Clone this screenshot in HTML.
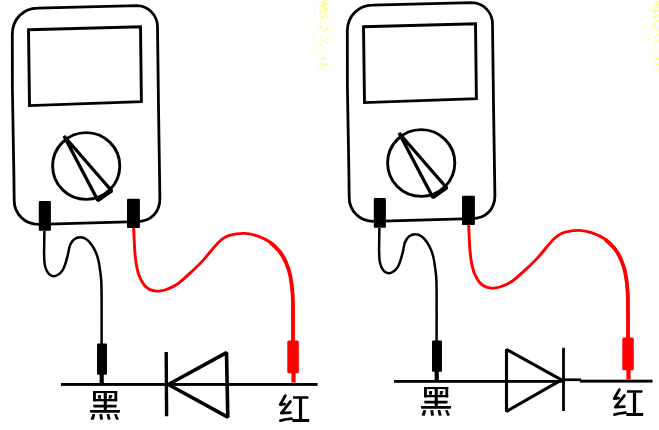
<!DOCTYPE html>
<html><head><meta charset="utf-8"><style>
html,body{margin:0;padding:0;background:#fff;width:659px;height:430px;overflow:hidden;font-family:"Liberation Sans",sans-serif}
svg{display:block}
</style></head><body>
<svg width="659" height="430" viewBox="0 0 659 430">
<rect width="659" height="430" fill="#fff"/>
<g fill="#ffff30" fill-opacity="0.75"><rect x="322.8" y="1.6" width="1.0" height="1.5"/><rect x="324.8" y="40.8" width="1.0" height="1.0"/><rect x="325.8" y="16.8" width="2.0" height="1.0"/><rect x="324.9" y="2.7" width="1.0" height="2.0"/><rect x="319.1" y="40.4" width="2.0" height="1.0"/><rect x="319.0" y="68.3" width="1.0" height="2.0"/><rect x="324.9" y="2.6" width="1.5" height="2.0"/><rect x="321.8" y="57.1" width="1.0" height="1.0"/><rect x="320.3" y="26.1" width="1.0" height="2.0"/><rect x="321.7" y="4.5" width="2.0" height="1.5"/><rect x="317.7" y="25.3" width="1.0" height="1.0"/><rect x="324.8" y="48.9" width="1.0" height="1.0"/><rect x="320.7" y="16.0" width="1.5" height="2.0"/><rect x="322.1" y="68.6" width="1.0" height="2.0"/><rect x="319.7" y="10.6" width="2.0" height="1.5"/><rect x="325.7" y="14.7" width="1.5" height="1.5"/><rect x="322.3" y="40.6" width="2.0" height="1.0"/><rect x="320.2" y="58.8" width="1.5" height="1.5"/><rect x="323.2" y="6.8" width="2.0" height="1.5"/><rect x="322.6" y="50.2" width="1.5" height="1.0"/><rect x="325.8" y="42.8" width="2.0" height="1.0"/><rect x="322.6" y="6.3" width="1.0" height="1.5"/><rect x="319.4" y="5.6" width="2.0" height="1.5"/><rect x="326.8" y="38.5" width="1.0" height="1.5"/><rect x="324.9" y="7.9" width="2.0" height="1.0"/><rect x="321.9" y="10.6" width="1.0" height="1.0"/><rect x="323.7" y="33.9" width="1.0" height="1.5"/><rect x="325.4" y="3.2" width="1.5" height="2.0"/><rect x="317.6" y="48.3" width="1.0" height="1.5"/><rect x="320.9" y="63.0" width="2.0" height="1.5"/><rect x="322.5" y="1.4" width="1.0" height="1.0"/><rect x="324.2" y="30.8" width="1.0" height="1.5"/><rect x="322.5" y="39.7" width="1.0" height="1.5"/><rect x="322.8" y="1.5" width="1.0" height="2.0"/><rect x="320.9" y="66.9" width="1.5" height="1.5"/><rect x="326.1" y="8.6" width="2.0" height="1.5"/><rect x="321.3" y="16.5" width="1.5" height="1.5"/><rect x="323.8" y="58.0" width="1.0" height="2.0"/><rect x="329.8" y="37.0" width="1.0" height="2.0"/><rect x="324.4" y="0.6" width="1.5" height="2.0"/><rect x="326.1" y="18.3" width="1.5" height="1.0"/><rect x="320.5" y="24.9" width="1.0" height="2.0"/><rect x="320.5" y="13.5" width="1.0" height="1.0"/><rect x="322.7" y="57.3" width="1.0" height="1.0"/><rect x="321.1" y="2.0" width="1.0" height="1.5"/><rect x="323.2" y="4.3" width="1.5" height="1.5"/><rect x="325.0" y="24.5" width="1.5" height="1.0"/><rect x="319.6" y="15.4" width="1.0" height="1.5"/><rect x="324.1" y="19.8" width="1.0" height="1.5"/><rect x="325.2" y="63.6" width="1.5" height="2.0"/><rect x="326.8" y="63.7" width="1.0" height="1.5"/><rect x="325.4" y="9.5" width="1.5" height="1.0"/><rect x="325.7" y="27.7" width="2.0" height="2.0"/><rect x="316.9" y="66.3" width="1.0" height="1.0"/><rect x="324.1" y="10.2" width="1.0" height="2.0"/><rect x="323.5" y="57.9" width="2.0" height="2.0"/><rect x="324.9" y="38.4" width="1.0" height="1.0"/><rect x="322.9" y="16.0" width="1.0" height="2.0"/><rect x="323.5" y="69.1" width="1.0" height="1.0"/><rect x="322.1" y="2.0" width="1.0" height="1.5"/><rect x="319.1" y="12.0" width="1.0" height="1.0"/><rect x="323.5" y="63.7" width="1.5" height="1.5"/><rect x="321.0" y="36.2" width="1.0" height="2.0"/><rect x="319.4" y="11.2" width="2.0" height="1.0"/><rect x="320.0" y="10.5" width="1.0" height="1.5"/><rect x="320.7" y="43.3" width="1.0" height="2.0"/><rect x="327.1" y="10.6" width="1.0" height="2.0"/><rect x="325.0" y="4.0" width="1.0" height="1.5"/><rect x="324.6" y="31.7" width="1.0" height="1.0"/><rect x="323.8" y="13.5" width="1.0" height="2.0"/><rect x="314.1" y="38.1" width="1" height="1"/><rect x="325.8" y="38.1" width="1" height="1"/><rect x="313.4" y="39.2" width="1" height="1"/><rect x="327.3" y="69.6" width="1" height="1"/><rect x="328.3" y="67.0" width="1" height="1"/><rect x="312.5" y="33.6" width="1" height="1"/><rect x="317.2" y="29.4" width="1" height="1"/><rect x="315.0" y="50.3" width="1" height="1"/><rect x="317.4" y="16.0" width="1" height="1"/><rect x="314.7" y="9.2" width="1" height="1"/><rect x="325.1" y="70.5" width="1" height="1"/><rect x="322.2" y="27.5" width="1" height="1"/><rect x="313.6" y="10.3" width="1" height="1"/><rect x="318.3" y="56.0" width="1" height="1"/><rect x="310.1" y="66.4" width="1" height="1"/><rect x="311.6" y="50.1" width="1" height="1"/><rect x="312.9" y="53.0" width="1" height="1"/><rect x="329.9" y="30.3" width="1" height="1"/><rect x="317.3" y="26.7" width="1" height="1"/><rect x="310.0" y="27.4" width="1" height="1"/><rect x="315.4" y="34.4" width="1" height="1"/><rect x="323.5" y="28.8" width="1" height="1"/><rect x="319.4" y="22.2" width="1" height="1"/><rect x="329.1" y="8.5" width="1" height="1"/><rect x="328.2" y="17.1" width="1" height="1"/></g>
<g fill="#ffff30" fill-opacity="0.75" transform="translate(334 0)"><rect x="322.8" y="1.6" width="1.0" height="1.5"/><rect x="324.8" y="40.8" width="1.0" height="1.0"/><rect x="325.8" y="16.8" width="2.0" height="1.0"/><rect x="324.9" y="2.7" width="1.0" height="2.0"/><rect x="319.1" y="40.4" width="2.0" height="1.0"/><rect x="319.0" y="68.3" width="1.0" height="2.0"/><rect x="324.9" y="2.6" width="1.5" height="2.0"/><rect x="321.8" y="57.1" width="1.0" height="1.0"/><rect x="320.3" y="26.1" width="1.0" height="2.0"/><rect x="321.7" y="4.5" width="2.0" height="1.5"/><rect x="317.7" y="25.3" width="1.0" height="1.0"/><rect x="324.8" y="48.9" width="1.0" height="1.0"/><rect x="320.7" y="16.0" width="1.5" height="2.0"/><rect x="322.1" y="68.6" width="1.0" height="2.0"/><rect x="319.7" y="10.6" width="2.0" height="1.5"/><rect x="325.7" y="14.7" width="1.5" height="1.5"/><rect x="322.3" y="40.6" width="2.0" height="1.0"/><rect x="320.2" y="58.8" width="1.5" height="1.5"/><rect x="323.2" y="6.8" width="2.0" height="1.5"/><rect x="322.6" y="50.2" width="1.5" height="1.0"/><rect x="325.8" y="42.8" width="2.0" height="1.0"/><rect x="322.6" y="6.3" width="1.0" height="1.5"/><rect x="319.4" y="5.6" width="2.0" height="1.5"/><rect x="326.8" y="38.5" width="1.0" height="1.5"/><rect x="324.9" y="7.9" width="2.0" height="1.0"/><rect x="321.9" y="10.6" width="1.0" height="1.0"/><rect x="323.7" y="33.9" width="1.0" height="1.5"/><rect x="325.4" y="3.2" width="1.5" height="2.0"/><rect x="317.6" y="48.3" width="1.0" height="1.5"/><rect x="320.9" y="63.0" width="2.0" height="1.5"/><rect x="322.5" y="1.4" width="1.0" height="1.0"/><rect x="324.2" y="30.8" width="1.0" height="1.5"/><rect x="322.5" y="39.7" width="1.0" height="1.5"/><rect x="322.8" y="1.5" width="1.0" height="2.0"/><rect x="320.9" y="66.9" width="1.5" height="1.5"/><rect x="326.1" y="8.6" width="2.0" height="1.5"/><rect x="321.3" y="16.5" width="1.5" height="1.5"/><rect x="323.8" y="58.0" width="1.0" height="2.0"/><rect x="329.8" y="37.0" width="1.0" height="2.0"/><rect x="324.4" y="0.6" width="1.5" height="2.0"/><rect x="326.1" y="18.3" width="1.5" height="1.0"/><rect x="320.5" y="24.9" width="1.0" height="2.0"/><rect x="320.5" y="13.5" width="1.0" height="1.0"/><rect x="322.7" y="57.3" width="1.0" height="1.0"/><rect x="321.1" y="2.0" width="1.0" height="1.5"/><rect x="323.2" y="4.3" width="1.5" height="1.5"/><rect x="325.0" y="24.5" width="1.5" height="1.0"/><rect x="319.6" y="15.4" width="1.0" height="1.5"/><rect x="324.1" y="19.8" width="1.0" height="1.5"/><rect x="325.2" y="63.6" width="1.5" height="2.0"/><rect x="326.8" y="63.7" width="1.0" height="1.5"/><rect x="325.4" y="9.5" width="1.5" height="1.0"/><rect x="325.7" y="27.7" width="2.0" height="2.0"/><rect x="316.9" y="66.3" width="1.0" height="1.0"/><rect x="324.1" y="10.2" width="1.0" height="2.0"/><rect x="323.5" y="57.9" width="2.0" height="2.0"/><rect x="324.9" y="38.4" width="1.0" height="1.0"/><rect x="322.9" y="16.0" width="1.0" height="2.0"/><rect x="323.5" y="69.1" width="1.0" height="1.0"/><rect x="322.1" y="2.0" width="1.0" height="1.5"/><rect x="319.1" y="12.0" width="1.0" height="1.0"/><rect x="323.5" y="63.7" width="1.5" height="1.5"/><rect x="321.0" y="36.2" width="1.0" height="2.0"/><rect x="319.4" y="11.2" width="2.0" height="1.0"/><rect x="320.0" y="10.5" width="1.0" height="1.5"/><rect x="320.7" y="43.3" width="1.0" height="2.0"/><rect x="327.1" y="10.6" width="1.0" height="2.0"/><rect x="325.0" y="4.0" width="1.0" height="1.5"/><rect x="324.6" y="31.7" width="1.0" height="1.0"/><rect x="323.8" y="13.5" width="1.0" height="2.0"/><rect x="314.1" y="38.1" width="1" height="1"/><rect x="325.8" y="38.1" width="1" height="1"/><rect x="313.4" y="39.2" width="1" height="1"/><rect x="327.3" y="69.6" width="1" height="1"/><rect x="328.3" y="67.0" width="1" height="1"/><rect x="312.5" y="33.6" width="1" height="1"/><rect x="317.2" y="29.4" width="1" height="1"/><rect x="315.0" y="50.3" width="1" height="1"/><rect x="317.4" y="16.0" width="1" height="1"/><rect x="314.7" y="9.2" width="1" height="1"/><rect x="325.1" y="70.5" width="1" height="1"/><rect x="322.2" y="27.5" width="1" height="1"/><rect x="313.6" y="10.3" width="1" height="1"/><rect x="318.3" y="56.0" width="1" height="1"/><rect x="310.1" y="66.4" width="1" height="1"/><rect x="311.6" y="50.1" width="1" height="1"/><rect x="312.9" y="53.0" width="1" height="1"/><rect x="329.9" y="30.3" width="1" height="1"/><rect x="317.3" y="26.7" width="1" height="1"/><rect x="310.0" y="27.4" width="1" height="1"/><rect x="315.4" y="34.4" width="1" height="1"/><rect x="323.5" y="28.8" width="1" height="1"/><rect x="319.4" y="22.2" width="1" height="1"/><rect x="329.1" y="8.5" width="1" height="1"/><rect x="328.2" y="17.1" width="1" height="1"/></g>
<g><path d="M12.3 34 C12.3 19.44 23.39 8.1 37.5 8.1 L136.5 5.7 C148.26 5.7 157.5 15.07 157.5 27 L158.5 107 L159.9 198.5 C159.9 212.42 150.74 221.7 137 221.7 L38.5 224.4 C24.89 224.4 14.2 213.88 14.2 200.5 L13.8 170 L12.4 90 Z" fill="none" stroke="#000" stroke-width="2.8"/>
<path d="M28.5 29.8 L140.5 26.8 L141.4 101.6 L29.5 105.6 Z" fill="none" stroke="#000" stroke-width="2.9" stroke-linejoin="miter"/>
<ellipse cx="86.2" cy="166" rx="33.6" ry="33.4" fill="none" stroke="#000" stroke-width="2.9"/>
<path d="M64.0 136.0 L111.8 191 L97.9 200.6 Z" fill="none" stroke="#000" stroke-width="3.3" stroke-linejoin="bevel"/>
<path d="M44.4 231.0 C44.4 233.3 44.2 241.1 44.2 245.0 C44.2 248.9 44.0 251.2 44.1 254.3 C44.2 257.4 44.2 261.0 44.6 263.6 C45.0 266.2 45.6 268.3 46.4 270.1 C47.2 271.9 48.1 273.3 49.2 274.3 C50.4 275.3 51.8 276.1 53.3 276.2 C54.8 276.3 56.4 275.8 58.0 274.8 C59.6 273.8 61.5 272.0 62.7 270.1 C63.9 268.2 64.6 266.1 65.4 263.6 C66.2 261.1 67.0 258.2 67.8 255.1 C68.6 252.0 69.0 247.5 70.1 244.9 C71.2 242.3 72.6 240.6 74.3 239.3 C76.0 238.0 78.3 237.3 80.3 237.3 C82.3 237.3 84.5 238.0 86.4 239.3 C88.4 240.6 90.4 243.0 92.0 245.3 C93.6 247.6 95.1 250.7 96.2 253.3 C97.3 255.9 97.9 258.1 98.5 260.7 C99.1 263.3 99.5 265.9 99.9 269.1 C100.4 272.3 100.9 275.7 101.2 280.0 C101.5 284.3 101.5 284.3 101.6 295.0 C101.7 305.7 101.6 335.8 101.6 344.0" fill="none" stroke="#000" stroke-width="2.5"/>
<path d="M133.7 228.0 C133.8 230.0 134.0 236.3 134.2 240.0 C134.4 243.7 134.5 246.8 134.7 250.0 C134.9 253.2 135.2 256.2 135.6 259.3 C136.0 262.4 136.4 265.7 137.1 268.6 C137.8 271.5 138.5 274.1 139.6 276.7 C140.7 279.3 142.1 282.2 143.7 284.3 C145.2 286.4 147.1 287.9 148.9 289.0 C150.7 290.1 152.8 290.6 154.7 290.9 C156.6 291.2 158.5 291.2 160.6 290.9 C162.7 290.6 164.7 290.1 167.5 289.0 C170.3 287.9 173.6 286.8 177.5 284.0 C181.4 281.2 186.6 276.4 190.9 272.4 C195.2 268.4 199.6 264.2 203.5 259.9 C207.4 255.6 211.6 250.0 214.6 246.6 C217.6 243.2 219.1 241.5 221.6 239.6 C224.1 237.7 225.5 236.3 229.3 235.3 C233.1 234.3 239.5 233.3 244.2 233.4 C248.8 233.5 252.9 234.4 257.2 235.9 C261.5 237.4 266.5 239.7 270.2 242.3 C273.9 244.9 276.9 248.1 279.5 251.4 C282.1 254.8 284.2 258.3 286.0 262.4 C287.8 266.5 289.2 270.5 290.3 275.8 C291.4 281.1 292.2 287.9 292.6 294.4 C293.1 300.9 292.9 307.2 293.0 315.0 C293.1 322.8 293.0 336.7 293.0 341.0" fill="none" stroke="#f00" stroke-width="2.9"/>
<path d="M270.2 242.3 C271.8 243.8 276.9 248.1 279.5 251.4 C282.1 254.8 284.2 258.3 286.0 262.4 C287.8 266.5 289.2 270.5 290.3 275.8 C291.4 281.1 292.2 287.9 292.6 294.4 C293.1 300.9 292.9 307.2 293.0 315.0 C293.1 322.8 293.0 336.7 293.0 341.0" fill="none" stroke="#f00" stroke-width="3.8"/>
<rect x="38.8" y="201.1" width="12.1" height="29.6" rx="1" fill="#000"/>
<rect x="127" y="198.8" width="12.9" height="29.3" rx="1" fill="#000"/>
<rect x="97" y="343.6" width="10" height="31.1" rx="1" fill="#000"/>
<rect x="99.6" y="374" width="4.2" height="9" fill="#000"/>
<rect x="287.3" y="340.5" width="11.5" height="32.7" rx="1.5" fill="#f00"/>
<rect x="291.4" y="372.5" width="4.2" height="10" fill="#f00"/></g>
<g transform="translate(335 -3)"><path d="M12.3 34 C12.3 19.44 23.39 8.1 37.5 8.1 L136.5 5.7 C148.26 5.7 157.5 15.07 157.5 27 L158.5 107 L159.9 198.5 C159.9 212.42 150.74 221.7 137 221.7 L38.5 224.4 C24.89 224.4 14.2 213.88 14.2 200.5 L13.8 170 L12.4 90 Z" fill="none" stroke="#000" stroke-width="2.8"/>
<path d="M28.5 29.8 L140.5 26.8 L141.4 101.6 L29.5 105.6 Z" fill="none" stroke="#000" stroke-width="2.9" stroke-linejoin="miter"/>
<ellipse cx="86.2" cy="166" rx="33.6" ry="33.4" fill="none" stroke="#000" stroke-width="2.9"/>
<path d="M64.0 136.0 L111.8 191 L97.9 200.6 Z" fill="none" stroke="#000" stroke-width="3.3" stroke-linejoin="bevel"/>
<path d="M44.4 231.0 C44.4 233.3 44.2 241.1 44.2 245.0 C44.2 248.9 44.0 251.2 44.1 254.3 C44.2 257.4 44.2 261.0 44.6 263.6 C45.0 266.2 45.6 268.3 46.4 270.1 C47.2 271.9 48.1 273.3 49.2 274.3 C50.4 275.3 51.8 276.1 53.3 276.2 C54.8 276.3 56.4 275.8 58.0 274.8 C59.6 273.8 61.5 272.0 62.7 270.1 C63.9 268.2 64.6 266.1 65.4 263.6 C66.2 261.1 67.0 258.2 67.8 255.1 C68.6 252.0 69.0 247.5 70.1 244.9 C71.2 242.3 72.6 240.6 74.3 239.3 C76.0 238.0 78.3 237.3 80.3 237.3 C82.3 237.3 84.5 238.0 86.4 239.3 C88.4 240.6 90.4 243.0 92.0 245.3 C93.6 247.6 95.1 250.7 96.2 253.3 C97.3 255.9 97.9 258.1 98.5 260.7 C99.1 263.3 99.5 265.9 99.9 269.1 C100.4 272.3 100.9 275.7 101.2 280.0 C101.5 284.3 101.5 284.3 101.6 295.0 C101.7 305.7 101.6 335.8 101.6 344.0" fill="none" stroke="#000" stroke-width="2.5"/>
<path d="M133.7 228.0 C133.8 230.0 134.0 236.3 134.2 240.0 C134.4 243.7 134.5 246.8 134.7 250.0 C134.9 253.2 135.2 256.2 135.6 259.3 C136.0 262.4 136.4 265.7 137.1 268.6 C137.8 271.5 138.5 274.1 139.6 276.7 C140.7 279.3 142.1 282.2 143.7 284.3 C145.2 286.4 147.1 287.9 148.9 289.0 C150.7 290.1 152.8 290.6 154.7 290.9 C156.6 291.2 158.5 291.2 160.6 290.9 C162.7 290.6 164.7 290.1 167.5 289.0 C170.3 287.9 173.6 286.8 177.5 284.0 C181.4 281.2 186.6 276.4 190.9 272.4 C195.2 268.4 199.6 264.2 203.5 259.9 C207.4 255.6 211.6 250.0 214.6 246.6 C217.6 243.2 219.1 241.5 221.6 239.6 C224.1 237.7 225.5 236.3 229.3 235.3 C233.1 234.3 239.5 233.3 244.2 233.4 C248.8 233.5 252.9 234.4 257.2 235.9 C261.5 237.4 266.5 239.7 270.2 242.3 C273.9 244.9 276.9 248.1 279.5 251.4 C282.1 254.8 284.2 258.3 286.0 262.4 C287.8 266.5 289.2 270.5 290.3 275.8 C291.4 281.1 292.2 287.9 292.6 294.4 C293.1 300.9 292.9 307.2 293.0 315.0 C293.1 322.8 293.0 336.7 293.0 341.0" fill="none" stroke="#f00" stroke-width="2.9"/>
<path d="M270.2 242.3 C271.8 243.8 276.9 248.1 279.5 251.4 C282.1 254.8 284.2 258.3 286.0 262.4 C287.8 266.5 289.2 270.5 290.3 275.8 C291.4 281.1 292.2 287.9 292.6 294.4 C293.1 300.9 292.9 307.2 293.0 315.0 C293.1 322.8 293.0 336.7 293.0 341.0" fill="none" stroke="#f00" stroke-width="3.8"/>
<rect x="38.8" y="201.1" width="12.1" height="29.6" rx="1" fill="#000"/>
<rect x="127" y="198.8" width="12.9" height="29.3" rx="1" fill="#000"/>
<rect x="97" y="343.6" width="10" height="31.1" rx="1" fill="#000"/>
<rect x="99.6" y="374" width="4.2" height="9" fill="#000"/>
<rect x="287.3" y="340.5" width="11.5" height="32.7" rx="1.5" fill="#f00"/>
<rect x="291.4" y="372.5" width="4.2" height="10" fill="#f00"/></g>
<rect x="61" y="383" width="256.6" height="2.9" fill="#000"/>
<path d="M166.2 352 L166.6 416.3" stroke="#000" stroke-width="3.4"/>
<path d="M168.3 384.5 L226.5 352.6 L227.8 417.2 Z" fill="none" stroke="#000" stroke-width="3.6" stroke-linejoin="bevel"/>
<rect x="394" y="380" width="170" height="2.8" fill="#000"/><rect x="563" y="378.4" width="18" height="2.7" fill="#000"/><rect x="580" y="379.7" width="72.5" height="2.9" fill="#000"/>
<path d="M506.5 349.5 L561.5 379.9 L506.5 411.4 Z" fill="none" stroke="#000" stroke-width="3.1" stroke-linejoin="bevel"/>
<path d="M563.5 347.8 L563.5 411" stroke="#000" stroke-width="2.8"/>
<g fill="#000"><rect x="93.00" y="391.00" width="24.20" height="2.10"/>
<rect x="93.00" y="391.00" width="2.90" height="10.30"/>
<rect x="114.40" y="391.00" width="2.80" height="10.30"/>
<rect x="93.00" y="399.00" width="24.20" height="2.30"/>
<rect x="103.70" y="391.00" width="3.10" height="21.00"/>
<polygon points="93.10,404.70 116.80,404.70 116.30,407.40 93.60,407.40"/>
<polygon points="89.80,410.10 120.20,410.10 119.60,412.70 90.40,412.70"/>
<polygon points="97.80,395.30 101.10,395.00 100.90,398.70 98.20,398.80"/>
<polygon points="108.90,395.00 112.50,395.30 111.30,398.80 108.60,398.70"/>
<polygon points="92.50,414.00 95.30,414.30 93.80,419.70 90.60,419.60"/>
<polygon points="99.30,414.30 102.20,414.00 103.00,419.60 100.10,419.70"/>
<polygon points="106.60,414.10 109.30,414.00 110.70,419.50 107.80,419.70"/>
<polygon points="114.00,414.20 116.60,414.00 119.00,419.50 116.10,419.80"/></g>
<g fill="#000" transform="translate(331 -4)"><rect x="93.00" y="391.00" width="24.20" height="2.10"/>
<rect x="93.00" y="391.00" width="2.90" height="10.30"/>
<rect x="114.40" y="391.00" width="2.80" height="10.30"/>
<rect x="93.00" y="399.00" width="24.20" height="2.30"/>
<rect x="103.70" y="391.00" width="3.10" height="21.00"/>
<polygon points="93.10,404.70 116.80,404.70 116.30,407.40 93.60,407.40"/>
<polygon points="89.80,410.10 120.20,410.10 119.60,412.70 90.40,412.70"/>
<polygon points="97.80,395.30 101.10,395.00 100.90,398.70 98.20,398.80"/>
<polygon points="108.90,395.00 112.50,395.30 111.30,398.80 108.60,398.70"/>
<polygon points="92.50,414.00 95.30,414.30 93.80,419.70 90.60,419.60"/>
<polygon points="99.30,414.30 102.20,414.00 103.00,419.60 100.10,419.70"/>
<polygon points="106.60,414.10 109.30,414.00 110.70,419.50 107.80,419.70"/>
<polygon points="114.00,414.20 116.60,414.00 119.00,419.50 116.10,419.80"/></g>
<g fill="#000"><polygon points="293.0,396.3 308.2,396.2 308.6,397.5 308.0,398.8 293.0,398.8"/>
<rect x="298.9" y="398" width="3.2" height="21.5"/>
<polygon points="292.3,419.1 309.0,419.0 309.4,420.5 308.8,421.9 292.3,421.9"/>
<polyline points="285.30,395.80 280.20,404.60 284.60,404.20" fill="none" stroke="#000" stroke-width="2.80" stroke-linejoin="round" stroke-linecap="round"/>
<polyline points="290.40,401.60 281.30,413.20 290.30,412.60" fill="none" stroke="#000" stroke-width="2.80" stroke-linejoin="round" stroke-linecap="round"/>
<polyline points="280.40,420.60 285.00,419.50 291.50,418.60" fill="none" stroke="#000" stroke-width="2.70" stroke-linejoin="round" stroke-linecap="round"/></g>
<g fill="#000" transform="translate(334 -6)"><polygon points="293.0,396.3 308.2,396.2 308.6,397.5 308.0,398.8 293.0,398.8"/>
<rect x="298.9" y="398" width="3.2" height="21.5"/>
<polygon points="292.3,419.1 309.0,419.0 309.4,420.5 308.8,421.9 292.3,421.9"/>
<polyline points="285.30,395.80 280.20,404.60 284.60,404.20" fill="none" stroke="#000" stroke-width="2.80" stroke-linejoin="round" stroke-linecap="round"/>
<polyline points="290.40,401.60 281.30,413.20 290.30,412.60" fill="none" stroke="#000" stroke-width="2.80" stroke-linejoin="round" stroke-linecap="round"/>
<polyline points="280.40,420.60 285.00,419.50 291.50,418.60" fill="none" stroke="#000" stroke-width="2.70" stroke-linejoin="round" stroke-linecap="round"/></g>
</svg>
</body></html>
